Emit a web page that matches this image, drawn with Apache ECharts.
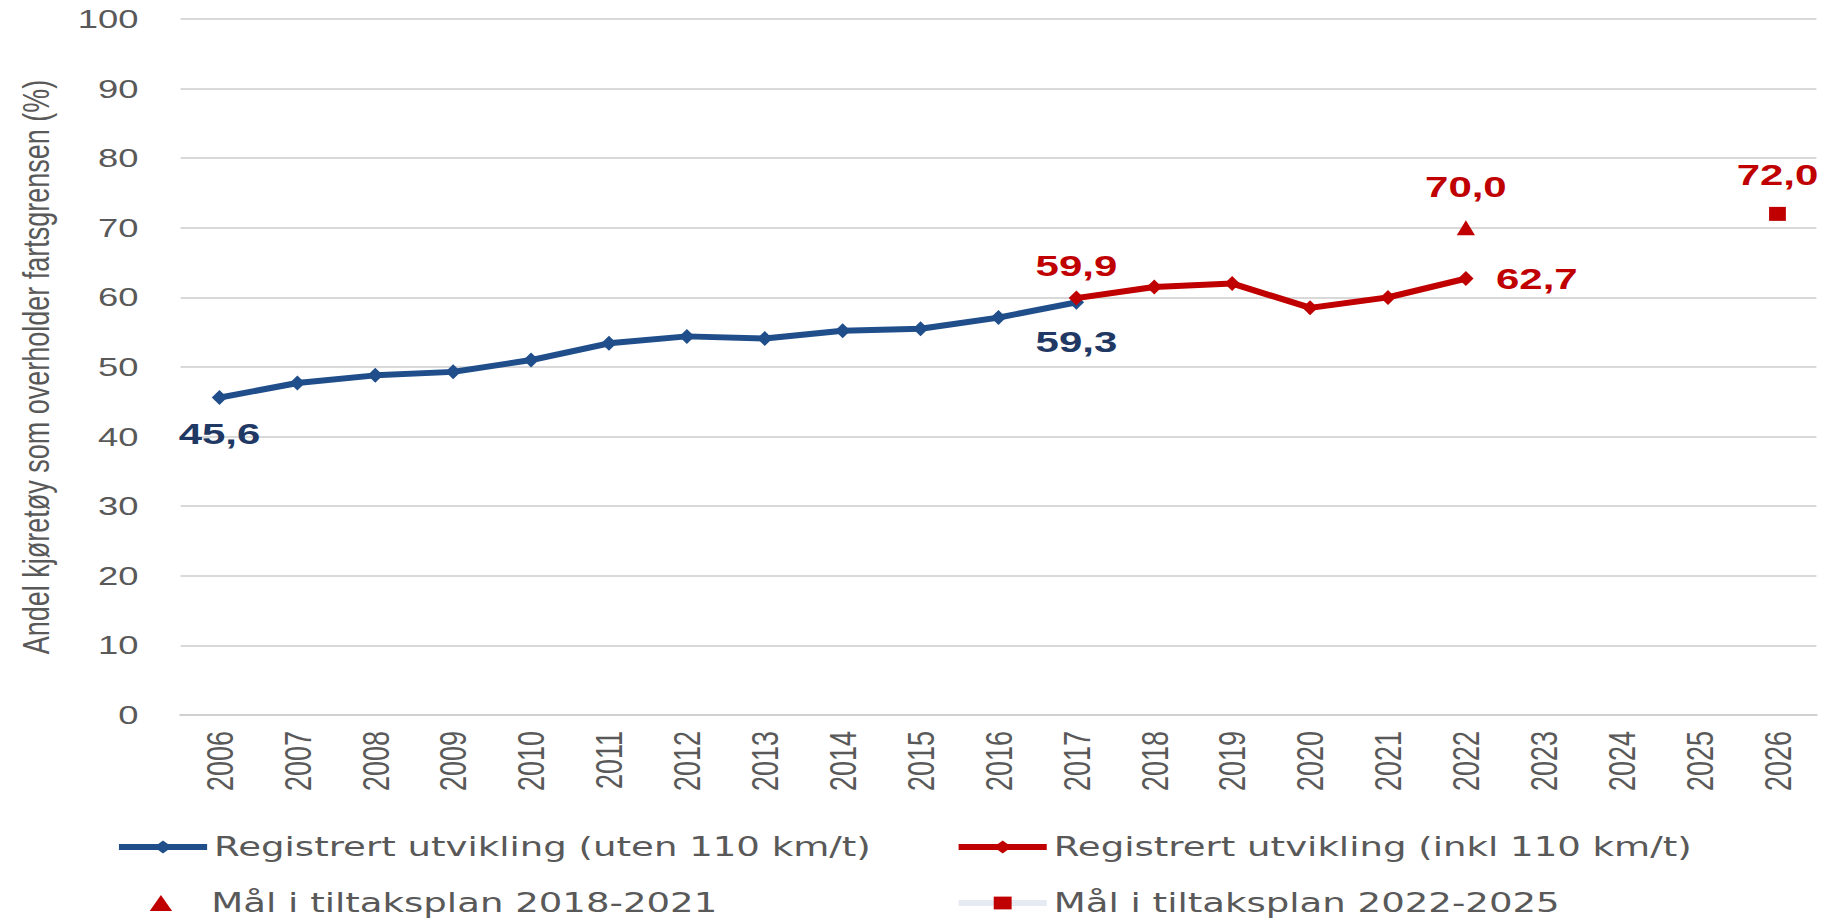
<!DOCTYPE html>
<html>
<head>
<meta charset="utf-8" />
<title>Andel kjøretøy som overholder fartsgrensen</title>
<script src="https://cdn.jsdelivr.net/npm/echarts@6/dist/echarts.min.js"></script>
<style>
html, body { margin: 0; padding: 0; background: #fff; overflow: hidden; }
/* the source picture is stretched sideways, so draw narrower and widen it */
#chart { width: 1312px; height: 921px; transform: scaleX(1.3994); transform-origin: 0 0; }
</style>
</head>
<body>
<div id="chart"></div>
<script>
var years = ['2006', '2007', '2008', '2009', '2010', '2011', '2012', '2013', '2014', '2015', '2016',
    '2017', '2018', '2019', '2020', '2021', '2022', '2023', '2024', '2025', '2026'];
var utenYears = ['2006', '2007', '2008', '2009', '2010', '2011', '2012', '2013', '2014', '2015', '2016', '2017'];
var utenValues = [45.6, 47.7, 48.8, 49.3, 51.0, 53.4, 54.4, 54.1, 55.2, 55.5, 57.1, 59.3];
var inklYears = ['2017', '2018', '2019', '2020', '2021', '2022'];
var inklValues = [59.9, 61.5, 62.0, 58.5, 60.0, 62.7];
var maal2018Years = ['2022'];
var maal2018Values = [70.0];
var maal2022Years = ['2026'];
var maal2022Values = [72.0];

var names = [
    'Registrert utvikling (uten 110 km/t)',
    'Registrert utvikling (inkl 110 km/t)',
    'Mål i tiltaksplan 2018-2021',
    'Mål i tiltaksplan 2022-2025'
];

var blue = '#1f4e8a';
var blueText = '#1f3864';
var red = '#c00000';
var grey = '#595959';

function fmt(p) {
    return p.value[1].toFixed(1).replace('.', ',');
}

function lbl(color, position, distance) {
    return {
        show: true, position: position, distance: distance, formatter: fmt,
        color: color, fontFamily: 'Liberation Sans', fontWeight: 'bold', fontSize: 30
    };
}

// pair up category + value, label only the points given in labels
function pairs(cats, vals, labels) {
    return vals.map(function (v, i) {
        var item = { value: [cats[i], v] };
        if (labels[i]) item.label = labels[i];
        return item;
    });
}

var last = utenValues.length - 1;
var utenLabels = {};
utenLabels[0] = lbl(blueText, 'bottom', 14);
utenLabels[last] = lbl(blueText, 'bottom', 17);
var inklLabels = {};
inklLabels[0] = lbl(red, 'top', 10);
inklLabels[inklValues.length - 1] = lbl(red, 'right', 16);

var myChart = echarts.init(document.getElementById('chart'), null, { renderer: 'svg' });

// one legend per entry so they sit in a 2 x 2 block
function legendAt(item, left, top, itemWidth, textPad) {
    return {
        data: [item],
        left: left,
        top: top,
        padding: 0,
        itemWidth: itemWidth,
        itemHeight: 16,
        selectedMode: false,
        lineStyle: { width: 6 },
        textStyle: {
            fontFamily: 'DejaVu Sans', fontSize: 26.5, color: grey, lineHeight: 30,
            padding: [0, 0, 0, textPad]
        }
    };
}

option = {
    animation: false,
    grid: {
        left: 129,
        right: 14,
        top: 19,
        bottom: 206,
        outerBoundsMode: 'none'
    },
    legend: [
        legendAt(names[0], 82, 832, 63, 0),
        legendAt(names[1], 682, 832, 63, 0),
        legendAt(names[2], 107, 888, 16, 23),
        legendAt(names[3], 682, 888, 63, 0)
    ],
    xAxis: {
        type: 'category',
        data: years,
        boundaryGap: true,
        axisLine: { lineStyle: { color: '#d0d0d0', width: 2 } },
        axisTick: { length: 8, lineStyle: { color: '#d0d0d0', width: 1 } },
        axisLabel: {
            rotate: 90,
            margin: 16,
            color: grey,
            fontFamily: 'Liberation Sans',
            fontSize: 27
        },
        splitLine: { show: false }
    },
    yAxis: {
        type: 'value',
        min: 0,
        max: 100,
        interval: 10,
        name: 'Andel kjøretøy som overholder fartsgrensen (%)',
        nameLocation: 'middle',
        nameGap: 90,
        nameTextStyle: { color: grey, fontFamily: 'Liberation Sans', fontSize: 27 },
        axisLine: { show: false },
        axisTick: { show: false },
        axisLabel: { margin: 30, color: grey, fontFamily: 'Liberation Sans', fontSize: 26 },
        splitLine: { lineStyle: { color: '#d9d9d9', width: 2 } }
    },
    series: [{
        name: names[0],
        type: 'line',
        data: pairs(utenYears, utenValues, utenLabels),
        symbol: 'diamond',
        symbolSize: [11, 15],
        showAllSymbol: true,
        lineStyle: { color: blue, width: 6 },
        itemStyle: { color: blue },
        z: 2
    }, {
        name: names[1],
        type: 'line',
        data: pairs(inklYears, inklValues, inklLabels),
        symbol: 'diamond',
        symbolSize: [11, 15],
        showAllSymbol: true,
        lineStyle: { color: red, width: 6 },
        itemStyle: { color: red },
        z: 3
    }, {
        name: names[2],
        type: 'scatter',
        data: pairs(maal2018Years, maal2018Values, [lbl(red, 'top', 19)]),
        symbol: 'triangle',
        symbolSize: [13, 15],
        itemStyle: { color: red, opacity: 1 },
        z: 4
    }, {
        name: names[3],
        type: 'line',
        data: pairs(maal2022Years, maal2022Values, [lbl(red, 'top', 17)]),
        symbol: 'rect',
        symbolSize: [12, 14],
        lineStyle: { color: '#e6eaf2', width: 5 },
        itemStyle: { color: red },
        z: 4
    }]
};

myChart.setOption(option);
</script>
</body>
</html>
